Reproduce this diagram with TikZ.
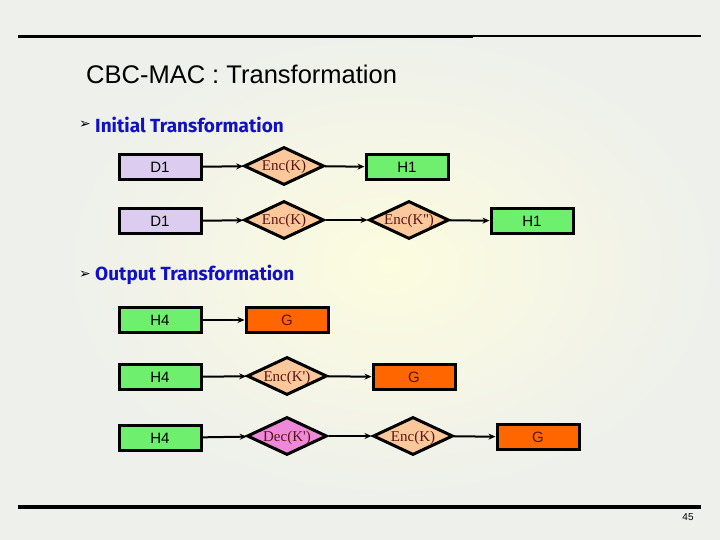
\documentclass[tikz,border=0pt]{standalone}
\usepackage{fontspec}
\setmainfont{Liberation Sans}
\newfontfamily\serifbox{Liberation Serif}
\newfontfamily\bulletfont{Fira Sans}
\newfontfamily\symfont{DejaVu Sans}
\usetikzlibrary{shapes.geometric,arrows.meta}
\definecolor{bgc}{RGB}{238,240,236}
\definecolor{yel}{RGB}{252,252,222}
\definecolor{lav}{RGB}{220,205,240}
\definecolor{grn}{RGB}{110,240,110}
\definecolor{pch}{RGB}{250,200,155}
\definecolor{org}{RGB}{255,102,0}
\definecolor{pnk}{RGB}{238,136,216}
\definecolor{mar}{RGB}{90,20,20}
\definecolor{blu}{RGB}{16,16,200}
\tikzset{
  x=1pt, y=-1pt,
  rbox/.style={draw=black, line width=3pt, minimum width=82pt, minimum height=25pt, inner sep=0pt, font=\fontsize{15}{15}\selectfont},
  dia/.style={draw=black, line width=3pt, diamond, minimum width=80pt, minimum height=38pt, inner sep=0pt, fill=pch},
  dtext/.style={text=mar, font=\serifbox\fontsize{15}{15}\selectfont, inner sep=0pt, anchor=base},
  conn/.style={line width=2pt, -{Stealth[length=7pt,width=6pt]}},
  bul/.style={anchor=west, text=blu, font=\bulletfont\bfseries\fontsize{19}{19}\selectfont, inner sep=0pt},
  bsym/.style={anchor=center, inner sep=0pt, font=\symfont\fontsize{14}{14}\selectfont},
}
\begin{document}
\begin{tikzpicture}
\useasboundingbox (0,0) rectangle (720,540);
\fill[bgc] (0,0) rectangle (720,540);
\shade[inner color=yel, outer color=bgc] (60,30) rectangle (720,500);
% rules
\draw[line width=3pt] (18,37) -- (473,37);
\draw[line width=2pt] (473,36.5) -- (701,36.5);
\draw[line width=3.5pt] (18,507) -- (701,507);
% title
\node[anchor=west, inner sep=0pt, font=\fontsize{25.5}{25.5}\selectfont] (title) at (86,74) {CBC-MAC : Transformation};
\node[bsym] (b1) at (85,125) {➢};
\node[bul] (t1) at (95,125) {Initial Transformation};
\node[bsym] (b2) at (85,275) {➢};
\node[bul] (t2) at (95,275) {Output Transformation};
% initial row 1
\node[rbox, fill=lav] (d1a) at (160,167) {D1};
\node[dia] (e1a) at (284,166) {};
\node[dtext] (e1at) at ([yshift=-5pt]e1a.center) {Enc(K)};
\node[rbox, fill=grn] (h1a) at (407,167) {H1};
\draw[conn] (d1a) -- (e1a);
\draw[conn] (e1a) -- (h1a);
% initial row 2
\node[rbox, fill=lav] (d1b) at (160,221) {D1};
\node[dia] (e1b) at (284,220) {};
\node[dtext] (e1bt) at ([yshift=-5pt]e1b.center) {Enc(K)};
\node[dia] (e2b) at (409,220) {};
\node[dtext] (e2bt) at ([yshift=-5pt]e2b.center) {Enc(K'')};
\node[rbox, fill=grn] (h1b) at (532,221) {H1};
\draw[conn] (d1b) -- (e1b);
\draw[conn] (e1b) -- (e2b);
\draw[conn] (e2b) -- (h1b);
% output row 1
\node[rbox, fill=grn] (h4a) at (160,320) {H4};
\node[rbox, fill=org, text=mar] (ga) at (287,320) {G};
\draw[conn] (h4a) -- (ga);
% output row 2
\node[rbox, fill=grn] (h4b) at (160,377) {H4};
\node[dia] (eb) at (287,376) {};
\node[dtext] (ebt) at ([yshift=-5pt]eb.center) {Enc(K')};
\node[rbox, fill=org, text=mar] (gb) at (414,377) {G};
\draw[conn] (h4b) -- (eb);
\draw[conn] (eb) -- (gb);
% output row 3
\node[rbox, fill=grn] (h4c) at (160,438) {H4};
\node[dia, fill=pnk] (dc) at (287,436) {};
\node[dtext] (dct) at ([yshift=-5pt]dc.center) {Dec(K')};
\node[dia] (ec) at (413,436) {};
\node[dtext] (ect) at ([yshift=-5pt]ec.center) {Enc(K)};
\node[rbox, fill=org, text=mar] (gc) at (538,437) {G};
\draw[conn] (h4c) -- (dc);
\draw[conn] (dc) -- (ec);
\draw[conn] (ec) -- (gc);
% page number
\node[inner sep=0pt, font=\fontsize{10}{10}\selectfont] (pg) at (688,517) {45};
\end{tikzpicture}
\end{document}
